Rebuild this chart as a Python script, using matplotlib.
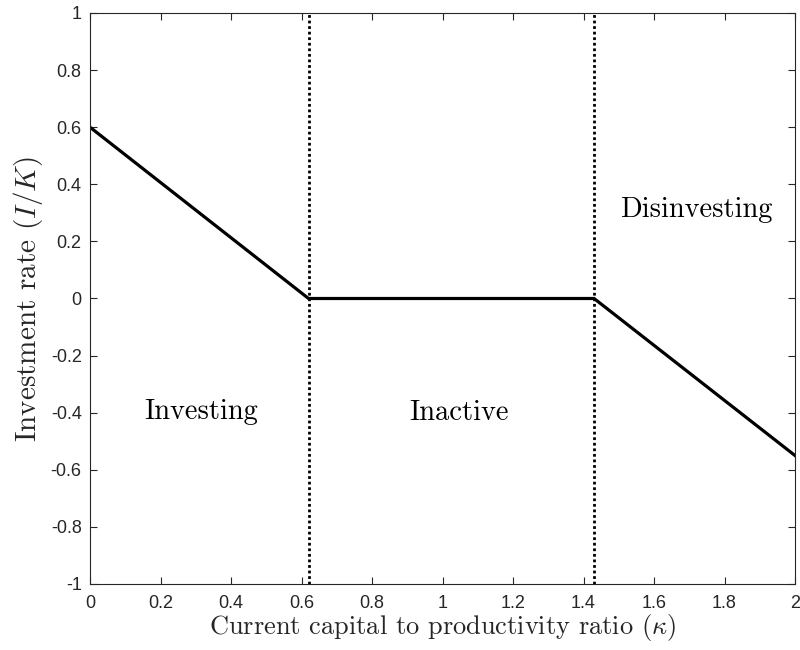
import matplotlib
matplotlib.use('Agg')
import matplotlib.pyplot as plt

# piecewise investment policy
kappa = [0.0, 0.62, 1.43, 2.0]
rate = [0.6, 0.0, 0.0, -0.55]
thresholds = [0.62, 1.43]

regions = ['Investing', 'Inactive', 'Disinvesting']
region_x = [0.316, 1.047, 1.72]
region_y = [-0.396, -0.40, 0.31]

xticks = [0, 0.2, 0.4, 0.6, 0.8, 1, 1.2, 1.4, 1.6, 1.8, 2]
yticks = [-1, -0.8, -0.6, -0.4, -0.2, 0, 0.2, 0.4, 0.6, 0.8, 1]

plt.rcParams['mathtext.fontset'] = 'cm'
plt.rcParams['axes.unicode_minus'] = False
plt.rcParams['font.family'] = ['Liberation Sans', 'DejaVu Sans']

axc = '#262626'
fig = plt.figure(figsize=(8, 6.5), dpi=100)
ax = fig.add_axes([90 / 800, 1 - 584 / 650, 705 / 800, 571 / 650])

ax.plot(kappa, rate, color='black', lw=2.3, solid_joinstyle='miter')
for t in thresholds:
    ax.axvline(t, color='black', lw=2.0, linestyle=(0, (1, 1)))

for name, x, y in zip(regions, region_x, region_y):
    ax.text(x, y, name, ha='center', va='center', fontsize=20.5, family='cmr10')

ax.set_xlim(0, 2)
ax.set_ylim(-1, 1)
ax.set_xticks(xticks)
ax.set_xticklabels([f'{v:g}' for v in xticks])
ax.set_yticks(yticks)
ax.set_yticklabels([f'{v:g}' for v in yticks])
ax.tick_params(direction='in', top=True, right=True, length=5, width=0.8,
               colors=axc, labelsize=13)
ax.tick_params(axis='x', pad=8)
ax.tick_params(axis='y', pad=6)
for s in ax.spines.values():
    s.set_color(axc)
    s.set_linewidth(0.8)

ax.set_xlabel(r'Current capital to productivity ratio ($\kappa$)',
              fontsize=19, family='cmr10', color=axc, labelpad=0)
ax.set_ylabel(r'Investment rate ($I/K$)', fontsize=21, family='cmr10',
              color=axc, labelpad=4)

fig.savefig('out.png', dpi=100)
